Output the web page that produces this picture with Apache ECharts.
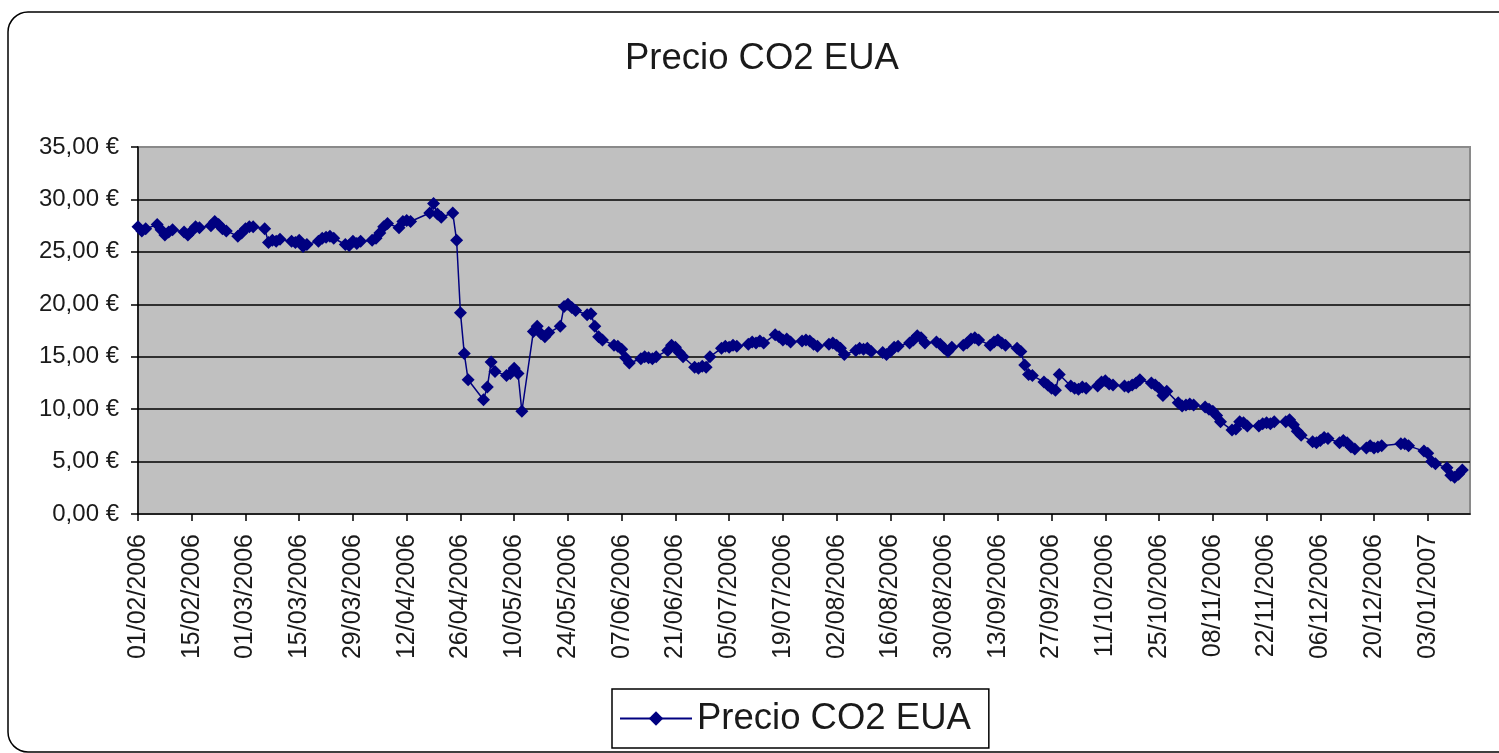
<!DOCTYPE html>
<html>
<head>
<meta charset="utf-8">
<title>Precio CO2 EUA</title>
<script src="https://cdn.jsdelivr.net/npm/echarts@6/dist/echarts.min.js"></script>
<style>
  html, body { margin: 0; padding: 0; background: #fff; }
  #container { width: 1499px; height: 753px; }
</style>
</head>
<body>
<div id="container"></div>
<script>
// precio diario (dias laborables, en orden), null = sin cotizacion
let feb06 = [27.4, 27.0, 27.2,  27.6, 27.1, 26.6, 26.9, 27.1,  26.9, 26.6, 27.0, 27.4, 27.3,
             27.5, 27.9, 27.6, 27.2, 27.0,  26.5, 26.8];
let mar06 = [27.2, 27.4, 27.4,  27.2, 25.9, 26.1, 26.0, 26.2,  26.0, 25.9, 26.1, 25.5, 25.7,
             26.0, 26.3, 26.4, 26.5, 26.3,  25.7, 25.6, 26.0, 25.8, 26.0];
let apr06 = [26.1, 26.3, 26.8, 27.4, 27.7,  27.3, 27.9, 28.0, 27.9, null,
             null, 28.7, 29.6, 28.6, 28.3,  28.7, 26.1, 19.2, 15.3, 12.8];
let may06 = [null, 10.9, 12.1, 14.5, 13.6,  13.2, 13.4, 13.9, 13.4, 9.8,  17.4, 17.9, 17.2, 16.9, 17.3,
             17.9, 19.8, 20.0, 19.7, 19.4,  19.0, 19.1, 17.9];
let jun06 = [16.9, 16.6,  16.1, 16.0, 15.7, 14.9, 14.4,  14.8, 15.0, 14.9, 14.8, 15.0,
             15.6, 16.1, 15.9, 15.4, 15.0,  14.0, 13.9, 14.1, 14.0, 15.0];
let jul06 = [15.8, 16.0, 15.9, 16.1, 16.0,  16.2, 16.4, 16.3, 16.5, 16.3,  17.1, 16.9, 16.6, 16.7, 16.4,
             16.5, 16.6, 16.5, 16.2, 16.0,  16.2];
let aug06 = [16.3, 16.1, 15.8, 15.2,  15.6, 15.8, 15.7, 15.8, 15.5,  15.4, 15.2, 15.5, 15.9, 16.0,
             16.3, 16.6, 17.0, 16.8, 16.3,  16.4, 16.2, 15.8, 15.5];
let sep06 = [15.9,  16.1, 16.3, 16.7, 16.8, 16.6,  16.1, 16.4, 16.6, 16.3, 16.1,
             15.8, 15.5, 14.2, 13.3, 13.2,  12.6, 12.3, 12.0, 11.8, 13.3];
let oct06 = [12.2, 12.0, 11.9, 12.1, 12.0,  12.2, 12.6, 12.7, 12.4, 12.3,  12.2, 12.1, 12.3, 12.5, 12.8,
             12.5, 12.3, 12.0, 11.3, 11.7,  10.6, 10.3];
let nov06 = [10.4, 10.5, 10.4,  10.2, 10.0, 9.8, 9.4, 8.8,  8.0, 8.1, 8.8, 8.7, 8.4,
             8.4, 8.6, 8.7, 8.6, 8.8,  8.8, 9.0, 8.5, 7.9];
let dec06 = [7.5,  6.9, 6.8, 7.0, 7.3, 7.2,  6.8, 7.0, 6.8, 6.4, 6.2,
             6.3, 6.5, 6.3, 6.4, 6.5,  null, null, 6.7, 6.7, 6.5];
let jan07 = [null, 6.0, 5.8, 5.0, 4.8,  4.4, 3.7, 3.5, 3.8, 4.2];

let yTicks = [0, 5, 10, 15, 20, 25, 30, 35];

let firstDay = new Date(2006, 1, 1);
let lastDay = new Date(2007, 0, 14);

function pad(n) { return (n < 10 ? '0' : '') + n; }

// eje de fechas diario, los precios se colocan en los dias laborables
let prices = [].concat(feb06, mar06, apr06, may06, jun06, jul06, aug06, sep06, oct06, nov06, dec06, jan07);
let days = [];
let values = [];
let k = 0;
for (let d = new Date(firstDay); d <= lastDay; d.setDate(d.getDate() + 1)) {
    days.push(pad(d.getDate()) + '/' + pad(d.getMonth() + 1) + '/' + d.getFullYear());
    let wd = d.getDay();
    if (wd !== 0 && wd !== 6 && k < prices.length) {
        values.push(prices[k]);
        k++;
    } else {
        values.push(null);
    }
}

var dom = document.getElementById('container');
var myChart = echarts.init(dom, null, { renderer: 'canvas' });

var font = '"Liberation Sans", Arial, sans-serif';

var option = {
    animation: false,
    backgroundColor: '#fff',
    textStyle: { fontFamily: font },
    graphic: [{
        type: 'rect',
        shape: { x: 8, y: 12, width: 1510, height: 740, r: 20 },
        style: { fill: 'none', stroke: '#000', lineWidth: 1.5 },
        z: 100
    }],
    title: {
        text: 'Precio CO2 EUA',
        left: 620,
        top: 35,
        textStyle: { fontSize: 36.5, fontWeight: 'normal', color: '#1a1a1a', fontFamily: font }
    },
    legend: {
        left: 612,
        top: 689,
        padding: [11, 18, 11, 7],
        borderColor: '#000',
        borderWidth: 1.5,
        itemWidth: 72,
        itemHeight: 18,
        textStyle: { fontSize: 36.5, color: '#1a1a1a', fontFamily: font },
        data: ['Precio CO2 EUA']
    },
    grid: {
        show: true,
        left: 138,
        right: 29,
        top: 147,
        bottom: 239,
        backgroundColor: '#c0c0c0',
        borderColor: '#8a8a8a',
        borderWidth: 2
    },
    xAxis: {
        type: 'category',
        data: days,
        boundaryGap: false,
        axisLine: { lineStyle: { color: '#000', width: 1.5 } },
        axisTick: { interval: 13, length: 7, lineStyle: { color: '#000', width: 1.5 } },
        axisLabel: {
            interval: 13,
            rotate: 90,
            margin: 20,
            fontSize: 25,
            color: '#1a1a1a',
            fontFamily: font
        },
        splitLine: { show: false }
    },
    yAxis: {
        type: 'value',
        min: yTicks[0],
        max: yTicks[yTicks.length - 1],
        interval: 5,
        axisLine: { show: true, lineStyle: { color: '#000', width: 1.5 } },
        axisTick: { show: true, length: 7, lineStyle: { color: '#000', width: 1.5 } },
        axisLabel: {
            margin: 19,
            fontSize: 24,
            color: '#1a1a1a',
            fontFamily: font,
            formatter: function (v) { return v.toFixed(2).replace('.', ',') + ' €'; }
        },
        splitLine: { show: true, showMinLine: false, showMaxLine: false, lineStyle: { color: '#000', width: 1.5 } }
    },
    series: [{
        name: 'Precio CO2 EUA',
        type: 'line',
        data: values,
        connectNulls: true,
        symbol: 'diamond',
        symbolSize: 13,
        showAllSymbol: true,
        itemStyle: { color: '#000080' },
        lineStyle: { color: '#000080', width: 1.5 }
    }]
};

myChart.setOption(option);
window.addEventListener('resize', myChart.resize);
</script>
</body>
</html>
